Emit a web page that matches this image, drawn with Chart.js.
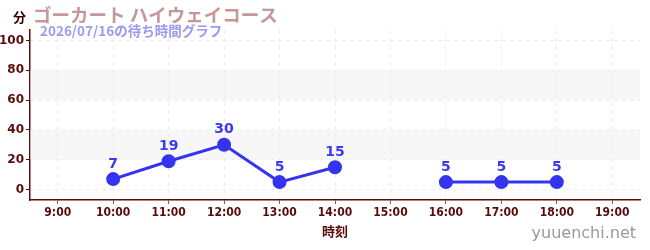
<!DOCTYPE html>
<html>
<head>
<meta charset="utf-8">
<script src="https://cdn.jsdelivr.net/npm/chart.js@4/dist/chart.umd.min.js"></script>
<style>
  body { margin: 0; background: #fff; }
  canvas { display: block; }
</style>
</head>
<body>
<canvas id="grafica" width="650" height="250"></canvas>
<script>
// datos
const horas = ["9:00", "10:00", "11:00", "12:00", "13:00", "14:00", "15:00", "16:00", "17:00", "18:00", "19:00"];
const espera = [null, 7, 19, 30, 5, 15, null, 5, 5, 5, null];
const bandas = [[20, 40], [60, 80]];

const titulo = "ゴーカート ハイウェイコース";
const subtitulo = "2026/07/16の待ち時間グラフ";
const fuente = "'Noto Sans CJK JP', 'DejaVu Sans', sans-serif";
const fuenteEje = "'Liberation Sans Narrow', 'DejaVu Sans Condensed', sans-serif";
const rojoOscuro = "#5a0a0a";

// fondo con franjas grises
const pluginBandas = {
  id: "bandas",
  beforeDatasetsDraw(chart) {
    const { ctx, chartArea, scales } = chart;
    ctx.save();
    ctx.fillStyle = "rgba(238,238,238,0.45)";
    bandas.forEach(([a, b]) => {
      const y1 = scales.y.getPixelForValue(b);
      const y2 = scales.y.getPixelForValue(a);
      ctx.fillRect(chartArea.left, y1, chartArea.right - chartArea.left, y2 - y1);
    });
    ctx.restore();
  }
};

// textos: titulo, unidades, valores y marca
const pluginTextos = {
  id: "textos",
  afterDraw(chart) {
    const { ctx } = chart;
    ctx.save();
    ctx.textBaseline = "middle";
    ctx.textAlign = "left";
    ctx.fillStyle = "#c49898";
    ctx.font = "bold 18.5px " + fuente;
    ctx.fillText(titulo, 33, 15);
    ctx.fillStyle = "#9a9af0";
    ctx.font = "bold 13.5px " + fuente;
    ctx.fillText(subtitulo, 40, 31);
    ctx.fillStyle = "#3a0000";
    ctx.font = "bold 13px " + fuente;
    ctx.fillText("分", 13, 17);

    ctx.textAlign = "right";
    ctx.fillStyle = "#999";
    ctx.font = "16px 'DejaVu Sans', sans-serif";
    ctx.fillText("yuuenchi.net", 636, 234);

    const meta = chart.getDatasetMeta(0);
    ctx.textAlign = "center";
    ctx.fillStyle = "#3a3af0";
    ctx.font = "bold 14px 'DejaVu Sans', sans-serif";
    meta.data.forEach((p, i) => {
      if (espera[i] === null) return;
      ctx.fillText(String(espera[i]), p.x, p.y - 15);
    });
    ctx.restore();
  }
};

const config = {
  type: "line",
  data: {
    labels: horas,
    datasets: [{
      data: espera,
      borderColor: "#3434f0",
      backgroundColor: "#3434f0",
      borderWidth: 3,
      pointRadius: 5.5,
      pointHoverRadius: 5.5,
      spanGaps: false,
      tension: 0
    }]
  },
  options: {
    responsive: false,
    animation: false,
    layout: { padding: { top: 30, right: 10, left: 0, bottom: 7 } },
    plugins: { legend: { display: false }, tooltip: { enabled: false } },
    scales: {
      x: {
        offset: true,
        grid: { color: "#ececec", offset: false, tickColor: "#666", tickLength: 4 },
        border: { color: rojoOscuro, width: 1.5, dash: [4, 4] },
        ticks: { color: rojoOscuro, font: { family: fuenteEje, weight: "bold", size: 12 }, padding: 2, maxRotation: 0 },
        title: { display: true, text: "時刻", color: rojoOscuro, font: { family: fuente, weight: "bold", size: 13 }, padding: { top: 4 } },
        afterFit(s) { s.height = 43; }
      },
      y: {
        min: -7,
        max: 107,
        afterBuildTicks(s) {
          const t = [];
          for (let v = 0; v <= 100; v += 10) t.push({ value: v });
          s.ticks = t;
        },
        grid: {
          color: (c) => (c.tick && c.tick.value % 20 === 0 ? "#ececec" : "rgba(0,0,0,0)"),
          tickColor: (c) => (c.tick && c.tick.value % 20 === 0 ? "#222" : "#e00000"),
          tickLength: 4
        },
        border: { color: rojoOscuro, width: 1.5, dash: [4, 4] },
        ticks: {
          color: rojoOscuro,
          font: { family: "'DejaVu Sans', sans-serif", weight: "bold", size: 12 },
          padding: 2,
          callback: (v) => (v % 20 === 0 ? v : "")
        },
        afterFit(s) { s.width = 30; }
      }
    }
  },
  plugins: [pluginBandas, pluginTextos]
};

const chartDOM = document.getElementById("grafica").getContext("2d");
window.grafica = new Chart(chartDOM, config);
</script>
</body>
</html>
